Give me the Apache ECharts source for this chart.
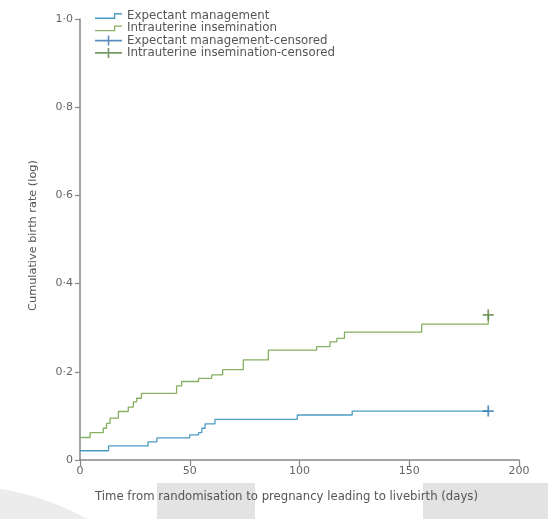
<!DOCTYPE html>
<html>
<head>
<meta charset="utf-8">
<script src="https://cdn.jsdelivr.net/npm/echarts@6/dist/echarts.min.js"></script>
<style>html,body{margin:0;padding:0;background:#fff}#c{width:548px;height:519px}</style>
</head>
<body>
<div id="c"></div>
<script>
// Data (days, cumulative birth rate)
const expectantSteps = [[0,0.021],[13,0.032],[31,0.041],[35,0.05],[50,0.057],[54,0.062],[55.5,0.072],[57,0.082],[61.5,0.092],[99,0.102],[124,0.111],[186,0.111]];
const iuiSteps = [[0,0.051],[4.6,0.062],[10.6,0.072],[12.1,0.083],[13.7,0.095],[17.5,0.11],[22,0.12],[24.3,0.132],[25.8,0.14],[28,0.151],[44,0.168],[46.3,0.178],[54,0.185],[60,0.193],[65,0.205],[74.4,0.227],[85.8,0.249],[107.8,0.257],[113.9,0.268],[117,0.276],[120.5,0.29],[155.7,0.308],[186,0.329]];
const expectantCensored = [[186,0.111]];
const iuiCensored = [[186,0.329]];
const seriesNames = ['Expectant management','Intrauterine insemination','Expectant management-censored','Intrauterine insemination-censored'];
const xTicks = [0,50,100,150,200];
const yTicks = [0,0.2,0.4,0.6,0.8,1.0];

const blue = '#4d9cc4', green = '#86b062', blueC = '#2f72ad', greenC = '#557f40';
const stepIcon = 'path://M0,4.5L19,4.5L19,0L27,0L27,1.3L20.3,1.3L20.3,5.8L0,5.8Z';
const plusIcon = 'path://M0,4.2L27,4.2L27,5.8L0,5.8ZM12.7,0L14.3,0L14.3,10L12.7,10Z';
const plusSym = 'path://M0,4.2L10,4.2L10,5.8L0,5.8ZM4.2,0L5.8,0L5.8,10L4.2,10Z';
const FONT = 'DejaVu Sans';
const fmt = v => v === 0 ? '0' : v.toFixed(1).replace('.', '\u00b7');

const chart = echarts.init(document.getElementById('c'), null, {renderer:'canvas'});
chart.setOption({
  animation:false,
  backgroundColor:'#fff',
  textStyle:{fontFamily:FONT},
  graphic:[
    {type:'circle', shape:{cx:-45, cy:760, r:275}, style:{fill:'#ececec'}, z:-10, silent:true},
    {type:'rect', shape:{x:157, y:483, width:98, height:36}, style:{fill:'#e3e3e3'}, z:-9, silent:true},
    {type:'rect', shape:{x:423, y:483, width:125, height:36}, style:{fill:'#e3e3e3'}, z:-9, silent:true}
  ],
  grid:{left:80, right:29, top:19, bottom:59},
  legend:{
    orient:'vertical', left:90, top:5, itemGap:0.3, itemWidth:27, itemHeight:10,
    symbolKeepAspect:true,
    textStyle:{fontFamily:FONT, fontSize:11.8, color:'#555', lineHeight:12, padding:[0,0,0,0]},
    data:[
      {name:seriesNames[0], icon:stepIcon},
      {name:seriesNames[1], icon:stepIcon},
      {name:seriesNames[2], icon:plusIcon},
      {name:seriesNames[3], icon:plusIcon}
    ]
  },
  xAxis:{
    type:'value', min:0, max:200, interval:50,
    name:'Time from randomisation to pregnancy leading to livebirth (days)',
    nameLocation:'middle', nameGap:31,
    nameTextStyle:{fontFamily:FONT, fontSize:11.7, color:'#555', padding:[0,26,0,0]},
    axisLine:{lineStyle:{color:'#888', width:1.5}},
    axisTick:{show:true, length:6, lineStyle:{color:'#888', width:1.2}},
    axisLabel:{fontFamily:FONT, fontSize:11, color:'#666', margin:6, formatter:v=>String(v)},
    splitLine:{show:false}
  },
  yAxis:{
    type:'value', min:0, max:1, interval:0.2,
    name:'Cumulative birth rate (log)',
    nameLocation:'middle', nameGap:41, nameRotate:90,
    nameTextStyle:{fontFamily:FONT, fontSize:11.3, color:'#555', padding:[0,0,0,8]},
    axisLine:{show:true, lineStyle:{color:'#888', width:1.5}},
    axisTick:{show:true, length:5, lineStyle:{color:'#888', width:1.2}},
    axisLabel:{fontFamily:FONT, fontSize:11, color:'#666', margin:7, formatter:fmt},
    splitLine:{show:false}
  },
  series:[
    {name:seriesNames[0], type:'line', step:'end', data:expectantSteps, showSymbol:false, symbol:'none',
     lineStyle:{color:blue, width:1.3}, itemStyle:{color:blue}, z:3},
    {name:seriesNames[1], type:'line', step:'end', data:iuiSteps, showSymbol:false, symbol:'none',
     lineStyle:{color:green, width:1.3}, itemStyle:{color:green}, z:3},
    {name:seriesNames[2], type:'scatter', data:expectantCensored, symbol:plusSym, symbolSize:11,
     itemStyle:{color:blueC}, z:4},
    {name:seriesNames[3], type:'scatter', data:iuiCensored, symbol:plusSym, symbolSize:11,
     itemStyle:{color:greenC}, z:4}
  ]
});
</script>
</body>
</html>
